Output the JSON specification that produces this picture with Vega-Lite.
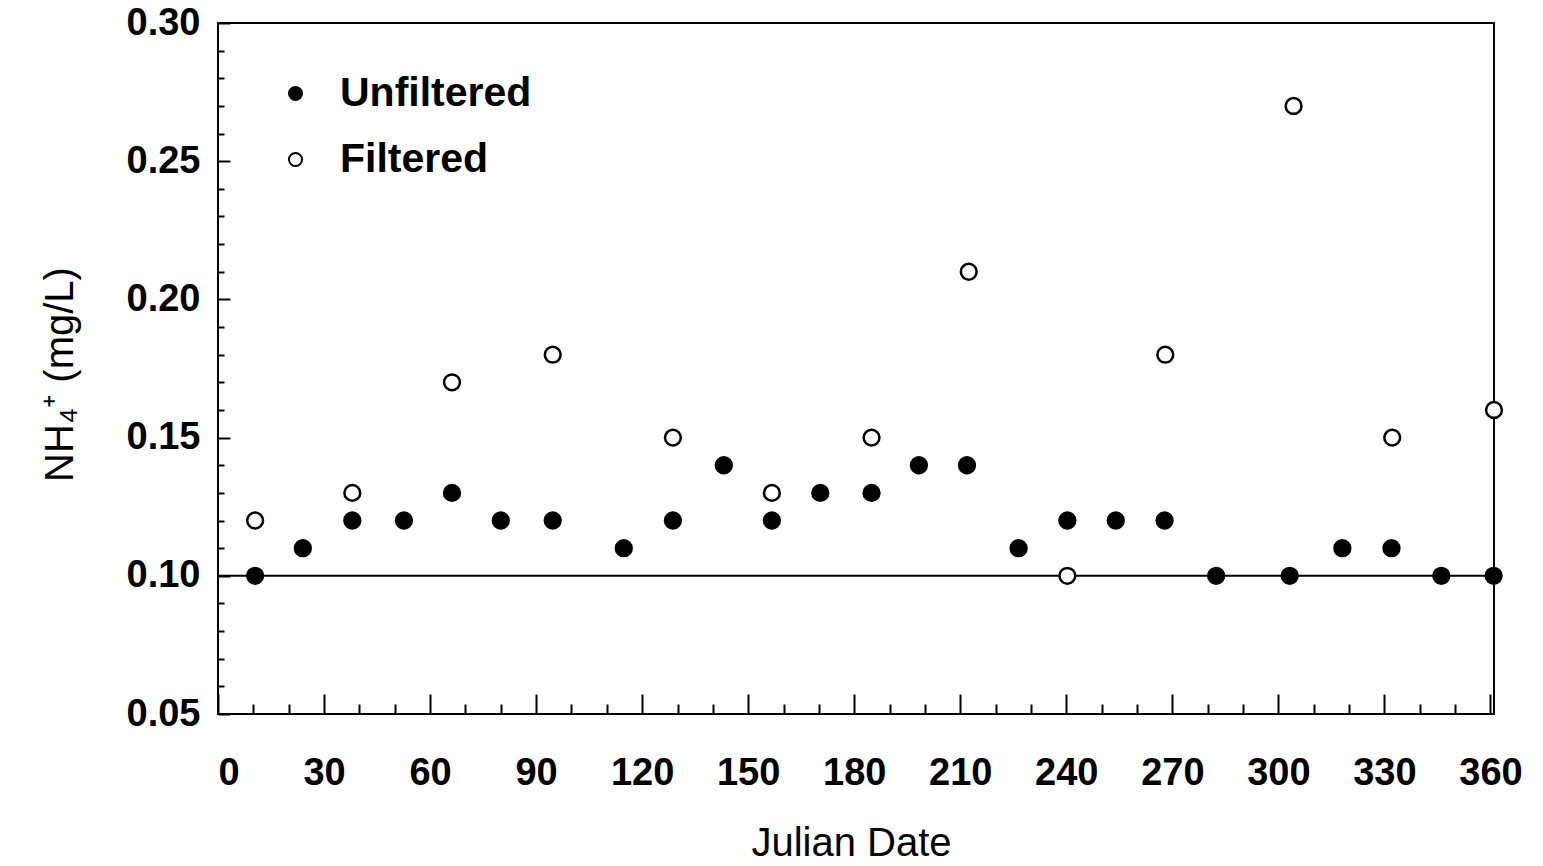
{
  "$schema": "https://vega.github.io/schema/vega-lite/v6.json",
  "autosize": "none",
  "width": 1276,
  "height": 691,
  "padding": {"left": 218, "top": 23, "right": 49, "bottom": 152},
  "background": "white",
  "config": {
    "view": {"stroke": "black", "strokeWidth": 2},
    "font": "Liberation Sans"
  },
  "datasets": {
    "points": [
      {"day": 10.5, "nh4": 0.10, "series": "Unfiltered"},
      {"day": 24.0, "nh4": 0.11, "series": "Unfiltered"},
      {"day": 38.0, "nh4": 0.12, "series": "Unfiltered"},
      {"day": 52.6, "nh4": 0.12, "series": "Unfiltered"},
      {"day": 66.2, "nh4": 0.13, "series": "Unfiltered"},
      {"day": 80.0, "nh4": 0.12, "series": "Unfiltered"},
      {"day": 94.7, "nh4": 0.12, "series": "Unfiltered"},
      {"day": 114.8, "nh4": 0.11, "series": "Unfiltered"},
      {"day": 128.7, "nh4": 0.12, "series": "Unfiltered"},
      {"day": 143.1, "nh4": 0.14, "series": "Unfiltered"},
      {"day": 156.7, "nh4": 0.12, "series": "Unfiltered"},
      {"day": 170.4, "nh4": 0.13, "series": "Unfiltered"},
      {"day": 184.9, "nh4": 0.13, "series": "Unfiltered"},
      {"day": 198.3, "nh4": 0.14, "series": "Unfiltered"},
      {"day": 211.9, "nh4": 0.14, "series": "Unfiltered"},
      {"day": 226.5, "nh4": 0.11, "series": "Unfiltered"},
      {"day": 240.3, "nh4": 0.12, "series": "Unfiltered"},
      {"day": 254.0, "nh4": 0.12, "series": "Unfiltered"},
      {"day": 267.8, "nh4": 0.12, "series": "Unfiltered"},
      {"day": 282.4, "nh4": 0.10, "series": "Unfiltered"},
      {"day": 303.2, "nh4": 0.10, "series": "Unfiltered"},
      {"day": 318.1, "nh4": 0.11, "series": "Unfiltered"},
      {"day": 332.0, "nh4": 0.11, "series": "Unfiltered"},
      {"day": 346.1, "nh4": 0.10, "series": "Unfiltered"},
      {"day": 360.9, "nh4": 0.10, "series": "Unfiltered"},
      {"day": 10.5, "nh4": 0.12, "series": "Filtered"},
      {"day": 38.0, "nh4": 0.13, "series": "Filtered"},
      {"day": 66.2, "nh4": 0.17, "series": "Filtered"},
      {"day": 94.7, "nh4": 0.18, "series": "Filtered"},
      {"day": 128.7, "nh4": 0.15, "series": "Filtered"},
      {"day": 156.7, "nh4": 0.13, "series": "Filtered"},
      {"day": 184.9, "nh4": 0.15, "series": "Filtered"},
      {"day": 212.4, "nh4": 0.21, "series": "Filtered"},
      {"day": 240.3, "nh4": 0.10, "series": "Filtered"},
      {"day": 268.0, "nh4": 0.18, "series": "Filtered"},
      {"day": 304.3, "nh4": 0.27, "series": "Filtered"},
      {"day": 332.2, "nh4": 0.15, "series": "Filtered"},
      {"day": 361.0, "nh4": 0.16, "series": "Filtered"}
    ]
  },
  "resolve": {"axis": {"x": "independent", "y": "independent"}},
  "layer": [
    {
      "data": {"values": [{"level": 0.1}]},
      "mark": {"type": "rule", "color": "black", "strokeWidth": 2},
      "encoding": {
        "y": {
          "field": "level",
          "type": "quantitative",
          "scale": {"domain": [0.05, 0.30], "nice": false, "zero": false},
          "axis": {
            "orient": "left",
            "values": [0.05, 0.10, 0.15, 0.20, 0.25, 0.30],
            "format": ".2f",
            "domain": false,
            "grid": false,
            "ticks": true,
            "tickSize": -12,
            "tickWidth": 2,
            "tickColor": "black",
            "labelFont": "Liberation Sans",
            "labelFontSize": 38,
            "labelFontWeight": "bold",
            "labelColor": "black",
            "labelPadding": 30,
            "title": "NH₄⁺ (mg/L)",
            "titleFont": "Liberation Sans",
            "titleFontSize": 40,
            "titleFontWeight": "normal",
            "titleColor": "black",
            "titleX": -158,
            "titleY": 351,
            "titleBaseline": "middle"
          }
        }
      }
    },
    {
      "data": {"name": "points"},
      "mark": {"type": "point", "shape": "circle", "size": 250, "strokeWidth": 2.5, "opacity": 1, "stroke": "black", "filled": false},
      "encoding": {
        "x": {
          "field": "day",
          "type": "quantitative",
          "scale": {"domain": [0, 361], "nice": false, "zero": false},
          "axis": {
            "orient": "bottom",
            "values": [0, 30, 60, 90, 120, 150, 180, 210, 240, 270, 300, 330, 360],
            "domain": false,
            "grid": false,
            "tickSize": -20,
            "tickWidth": 2,
            "tickColor": "black",
            "labelFont": "Liberation Sans",
            "labelFontSize": 38,
            "labelFontWeight": "bold",
            "labelColor": "black",
            "labelPadding": 60,
            "title": "Julian Date",
            "titleFont": "Liberation Sans",
            "titleFontSize": 40,
            "titleFontWeight": "normal",
            "titleColor": "black",
            "titleX": 633,
            "titleY": 129,
            "titleBaseline": "middle"
          }
        },
        "y": {
          "field": "nh4",
          "type": "quantitative",
          "scale": {"domain": [0.05, 0.30], "nice": false, "zero": false},
          "axis": {
            "orient": "left",
            "values": [0.06, 0.07, 0.08, 0.09, 0.11, 0.12, 0.13, 0.14, 0.16, 0.17, 0.18, 0.19, 0.21, 0.22, 0.23, 0.24, 0.26, 0.27, 0.28, 0.29],
            "domain": false,
            "grid": false,
            "labels": false,
            "title": null,
            "tickSize": -6,
            "tickWidth": 2,
            "tickColor": "black"
          }
        },
        "fill": {
          "field": "series",
          "type": "nominal",
          "scale": {"domain": ["Unfiltered", "Filtered"], "range": ["black", "white"]},
          "legend": {
            "title": null,
            "orient": "none",
            "legendX": 57,
            "legendY": 50,
            "padding": 0,
            "symbolType": "circle",
            "symbolSize": 170,
            "symbolStrokeColor": "black",
            "symbolStrokeWidth": 2,
            "labelFont": "Liberation Sans",
            "labelFontSize": 41,
            "labelFontWeight": "bold",
            "labelColor": "black",
            "labelLimit": 500,
            "labelOffset": 24,
            "rowPadding": 24
          }
        }
      }
    },
    {
      "data": {"name": "points"},
      "mark": {"type": "point", "opacity": 0, "size": 1},
      "encoding": {
        "x": {
          "field": "day",
          "type": "quantitative",
          "axis": {
            "orient": "bottom",
            "values": [10, 20, 40, 50, 70, 80, 100, 110, 130, 140, 160, 170, 190, 200, 220, 230, 250, 260, 280, 290, 310, 320, 340, 350],
            "domain": false,
            "grid": false,
            "labels": false,
            "title": null,
            "tickSize": -10,
            "tickWidth": 2,
            "tickColor": "black"
          }
        },
        "y": {
          "field": "nh4",
          "type": "quantitative",
          "axis": null
        }
      }
    }
  ]
}
